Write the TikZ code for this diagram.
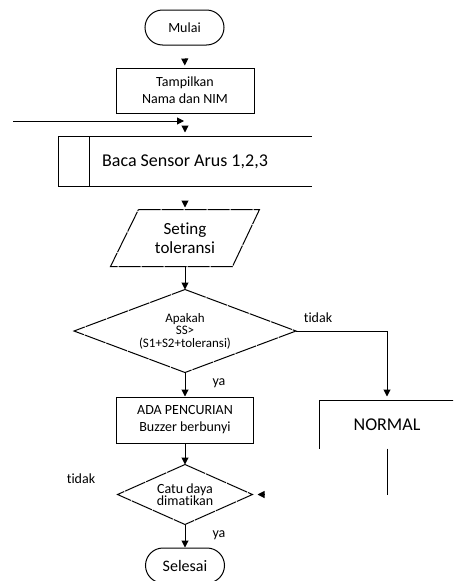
\documentclass[tikz,border=0pt]{standalone}
\usepackage{fontspec}
\setmainfont{Carlito}[Ligatures=NoCommon]
\usetikzlibrary{arrows.meta,shapes.misc}

\tikzset{
  termBox/.style={draw, rounded rectangle, minimum width=79pt, minimum height=35pt, inner sep=0pt, font=\fontsize{14}{17}\selectfont},
  procBox/.style={draw, rectangle, inner sep=0pt, align=center, font=\fontsize{14}{17}\selectfont},
  openBox/.style={rectangle, inner sep=0pt, align=center},
  jagged/.style={dash pattern=on 22pt off 1pt},
  flowArrow/.style={-{Triangle[length=7pt,width=7pt]}},
  yesNo/.style={font=\fontsize{14}{17}\selectfont, inner sep=0pt},
}

\begin{document}
\begin{tikzpicture}[x=1pt,y=-1pt,line width=1pt]
 \clip (0,0) rectangle (453,581);
 % Start
 \node[termBox] (mulai) at (184.5,27.5) {Mulai};
 \node[procBox, minimum width=138pt, minimum height=45pt] (tampil) at (185,90.5) {Tampilkan\\Nama dan NIM};
 \draw[flowArrow, shorten <=15pt, shorten >=2pt] (mulai) -- (tampil);
 % Line from the left
 \coordinate (inLeft) at (13,121);
 \coordinate (inJoin) at (184,121);
 \draw[flowArrow] (inLeft) -- (inJoin);
 % Read sensors
 \node[openBox, minimum width=252pt, minimum height=49pt, font=\fontsize{18}{21}\selectfont] (baca) at (185,161.5) {Baca Sensor Arus 1,2,3};
 \draw (baca.north east) -- (baca.north west) -- (baca.south west) -- (baca.south east);
 \draw ([xshift=31pt]baca.north west) -- ([xshift=31pt]baca.south west);
 \draw[flowArrow, shorten <=13pt, shorten >=4pt] (tampil) -- (baca);
 % Tolerance input
 \node[openBox, minimum width=148pt, minimum height=56pt, font=\fontsize{17}{19}\selectfont] (seting) at (185,238) {Seting\\toleransi};
 \draw[jagged] ([xshift=28pt]seting.north west) -- (seting.north east) -- ([xshift=-27pt]seting.south east) -- (seting.south west) -- cycle;
 \draw[flowArrow, shorten <=16pt, shorten >=2pt] (baca) -- (seting);
 % Decision
 \node[openBox, minimum width=221pt, minimum height=82pt, font=\fontsize{13}{12.5}\selectfont] (cek) at (185,331) {Apakah\\SS>\\(S1+S2+toleransi)};
 \draw[jagged] (cek.north) -- (cek.east) -- (cek.south) -- (cek.west) -- cycle;
 \draw[flowArrow] (seting) -- (cek);
 \node[yesNo] (tidakA) at (318,318) {tidak};
 \node[yesNo] (yaA) at (219,383) {ya};
 % Alarm
 \node[procBox, minimum width=137pt, minimum height=46pt] (ada) at (185,420) {ADA PENCURIAN\\Buzzer berbunyi};
 \draw[flowArrow] (cek) -- (ada);
 % Normal branch
 \node[openBox, minimum width=134pt, minimum height=47pt, font=\fontsize{18}{21}\selectfont] (normal) at (387,424.5) {NORMAL};
 \draw (normal.south west) -- (normal.north west) -- (normal.north east);
 \draw[flowArrow, shorten >=4pt] (cek.east) -| (normal.north);
 \coordinate (normBot) at (387,494.5);
 \draw (normal.south) -- (normBot);
 % Power check
 \node[openBox, minimum width=134pt, minimum height=59pt, font=\fontsize{14}{12.5}\selectfont] (catu) at (185,494.5) {Catu daya\\dimatikan};
 \draw[jagged] (catu.north) -- (catu.east) -- (catu.south) -- (catu.west) -- cycle;
 \draw[flowArrow] (ada) -- (catu);
 \draw[flowArrow, shorten <=123pt, shorten >=5pt] (normBot) -- (catu.east);
 \node[yesNo] (tidakB) at (81,479) {tidak};
 \node[yesNo] (yaB) at (219,535) {ya};
 % End
 \node[termBox, font=\fontsize{16}{19}\selectfont] (selesai) at (185,565.5) {Selesai};
 \draw[flowArrow] (catu) -- (selesai);
\end{tikzpicture}
\end{document}
